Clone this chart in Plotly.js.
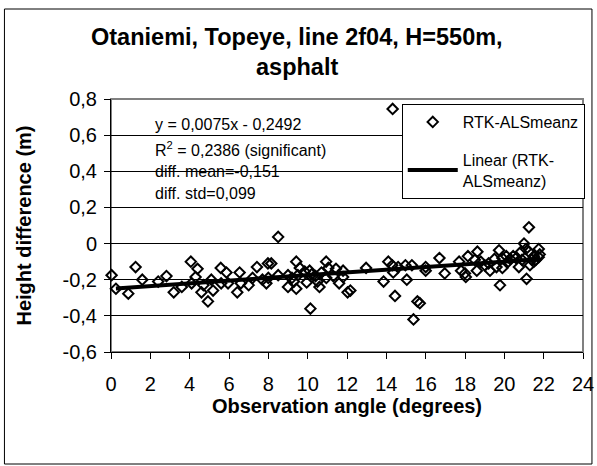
<!DOCTYPE html>
<html>
<head>
<meta charset="utf-8">
<script src="https://cdn.plot.ly/plotly-3.0.1.min.js"></script>
<style>html,body{margin:0;padding:0;background:#fff;}#chart{width:597px;height:466px;}</style>
</head>
<body>
<div id="chart"></div>
<script>
// Observation angle (degrees)
var obsAngle = [0.03,0.25,0.88,1.25,1.59,2.4,2.82,3.19,3.6,4.06,4.1,4.3,4.4,4.6,4.7,4.93,5.1,5.19,5.58,5.6,5.87,5.95,6.42,6.54,6.6,7.0,7.2,7.42,7.7,7.9,7.98,8.0,8.15,8.5,8.5,9.0,9.0,9.2,9.3,9.42,9.42,9.5,9.6,9.85,9.95,10.1,10.14,10.2,10.4,10.5,10.6,10.7,10.94,10.95,11.05,11.3,11.44,11.6,11.8,11.8,12.03,12.17,12.97,13.86,14.1,14.3,14.32,14.35,14.44,14.6,14.97,15.04,15.3,15.38,15.58,15.7,16.0,16.0,16.7,16.97,17.7,17.8,18.0,18.04,18.15,18.5,18.6,18.63,18.8,19.0,19.2,19.27,19.5,19.6,19.73,19.78,19.9,19.9,20.1,20.2,20.3,20.45,20.6,20.74,20.85,20.9,21.0,21.1,21.13,21.25,21.25,21.3,21.4,21.5,21.5,21.6,21.75,21.75,21.8];
// Height difference (m)
var heightDiff = [-0.175,-0.25,-0.277,-0.13,-0.20,-0.21,-0.18,-0.27,-0.24,-0.10,-0.22,-0.185,-0.14,-0.27,-0.23,-0.32,-0.20,-0.26,-0.135,-0.22,-0.16,-0.22,-0.27,-0.16,-0.22,-0.23,-0.19,-0.13,-0.20,-0.22,-0.11,-0.19,-0.11,-0.175,0.037,-0.175,-0.24,-0.19,-0.21,-0.10,-0.25,-0.175,-0.135,-0.155,-0.215,-0.15,-0.36,-0.17,-0.18,-0.21,-0.24,-0.16,-0.10,-0.19,-0.135,-0.18,-0.14,-0.22,-0.15,-0.185,-0.27,-0.26,-0.135,-0.21,-0.10,-0.12,0.745,-0.16,-0.29,-0.13,-0.12,-0.20,-0.12,-0.42,-0.32,-0.33,-0.15,-0.13,-0.08,-0.165,-0.10,-0.15,-0.165,-0.185,-0.07,-0.09,-0.15,-0.045,-0.10,-0.12,-0.11,-0.15,-0.085,-0.13,-0.037,-0.23,-0.08,-0.135,-0.07,-0.10,-0.085,-0.07,-0.08,-0.13,-0.045,-0.09,0.0,-0.03,-0.195,0.09,-0.045,-0.12,-0.09,-0.07,-0.10,-0.09,-0.03,-0.075,-0.06];
// Linear trend end points
var trendX = [0.25, 21.8];
var trendY = [-0.248, -0.086];

var xTickVals = [0,2,4,6,8,10,12,14,16,18,20,22,24];
var xTickText = ['0','2','4','6','8','10','12','14','16','18','20','22','24'];
var yTickVals = [-0.6,-0.4,-0.2,0,0.2,0.4,0.6,0.8];
var yTickText = ['-0,6','-0,4','-0,2','0','0,2','0,4','0,6','0,8'];

var titleLines = ['Otaniemi, Topeye, line 2f04, H=550m,', 'asphalt'];
var statsLines = ['y = 0,0075x - 0,2492', 'R<sup>2</sup> = 0,2386 (significant)', 'diff. mean=-0,151', 'diff. std=0,099'];
var seriesName = 'RTK-ALSmeanz';
var trendName = 'Linear (RTK-<br>ALSmeanz)';

var FONT = 'Liberation Sans, Arial, sans-serif';

var traces = [
  {
    x: obsAngle, y: heightDiff, type: 'scatter', mode: 'markers', name: seriesName,
    legendgroup: 'a',
    marker: {symbol: 'diamond-open', size: 8, color: '#000', line: {color: '#000', width: 2}},
    cliponaxis: false
  },
  {
    x: trendX, y: trendY, type: 'scatter', mode: 'lines', name: trendName,
    legendgroup: 'b',
    line: {color: '#000', width: 4}
  }
];

// pixel helpers for plot-area paper coordinates
var L = 111, R = 585, T = 99, B = 352;
function px(x){ return (x - L) / (R - L); }
function py(y){ return (B - y) / (B - T); }

var statsY = [124, 149, 171, 193];
var annotations = [];
titleLines.forEach(function(t, i){
  annotations.push({text: t, xref: 'paper', yref: 'paper', x: px(298), y: py([37, 67][i]),
    xanchor: 'center', yanchor: 'middle', showarrow: false,
    font: {family: FONT, size: 23.5, color: '#000', weight: 'bold'}});
});
statsLines.forEach(function(t, i){
  annotations.push({text: t, xref: 'paper', yref: 'paper', x: px(153), y: py(statsY[i]),
    xanchor: 'left', yanchor: 'middle', showarrow: false,
    font: {family: FONT, size: 16, color: '#000'}});
});

var layout = {
  width: 597, height: 466,
  margin: {l: L, r: 597 - R, t: T, b: 466 - B},
  paper_bgcolor: '#fff', plot_bgcolor: '#fff',
  font: {family: FONT, color: '#000'},
  showlegend: true,
  legend: {
    x: px(403), y: py(104), xanchor: 'left', yanchor: 'top',
    bgcolor: '#fff', bordercolor: '#000', borderwidth: 1,
    font: {family: FONT, size: 16, color: '#000'},
    traceorder: 'grouped', tracegroupgap: 14, itemwidth: 50
  },
  xaxis: {
    range: [0, 24], tickvals: xTickVals, ticktext: xTickText,
    showline: true, linecolor: '#000', linewidth: 1,
    ticks: 'outside', ticklen: 6, tickcolor: '#000', tickwidth: 1,
    showgrid: false, zeroline: false,
    tickfont: {family: FONT, size: 20, color: '#000'},
    ticklabelstandoff: 8,
    title: {text: 'Observation angle (degrees)', font: {family: FONT, size: 20, color: '#000', weight: 'bold'}, standoff: 0}
  },
  yaxis: {
    range: [-0.6, 0.8], tickvals: yTickVals, ticktext: yTickText,
    showline: true, linecolor: '#000', linewidth: 1,
    ticks: 'outside', ticklen: 6, tickcolor: '#000', tickwidth: 1,
    showgrid: true, gridcolor: '#000', gridwidth: 1, zeroline: false,
    tickfont: {family: FONT, size: 20, color: '#000'},
    ticklabelstandoff: 3,
    title: {text: 'Height difference (m)', font: {family: FONT, size: 20, color: '#000', weight: 'bold'}, standoff: 25}
  },
  shapes: [
    {type: 'rect', xref: 'paper', yref: 'paper', x0: 0, x1: 1, y0: 0, y1: 1,
      line: {color: '#808080', width: 2}, layer: 'below'},
    {type: 'rect', xref: 'paper', yref: 'paper', x0: px(4), x1: px(594), y0: py(464), y1: py(9),
      line: {color: '#000', width: 1}, layer: 'below'}
  ],
  annotations: annotations
};

Plotly.newPlot('chart', traces, layout, {staticPlot: true, displayModeBar: false});
</script>
</body>
</html>
